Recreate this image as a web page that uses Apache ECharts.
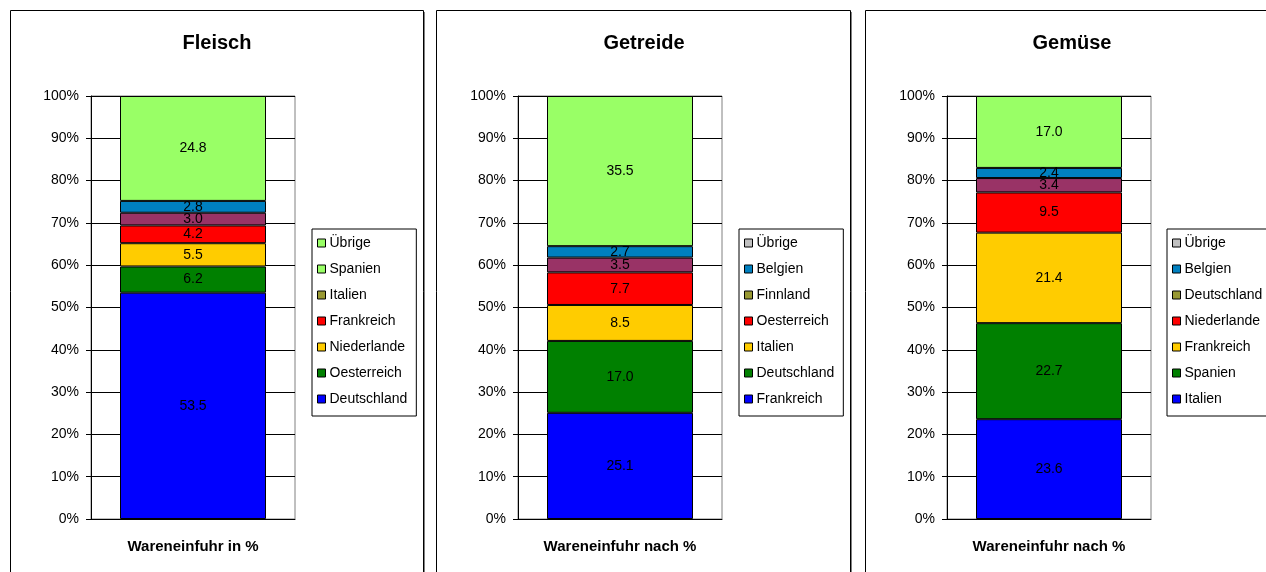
<!DOCTYPE html>
<html>
<head>
<meta charset="utf-8">
<script src="https://cdn.jsdelivr.net/npm/echarts@6/dist/echarts.min.js"></script>
<style>
  html, body { margin: 0; padding: 0; background: #fff; }
  #chart { width: 1266px; height: 572px; }
</style>
</head>
<body>
<div id="chart"></div>
<script>
// data, bottom segment first
const titles = ["Fleisch", "Getreide", "Gemüse"];
const axisNames = ["Wareneinfuhr in %", "Wareneinfuhr nach %", "Wareneinfuhr nach %"];

const fleischCats = ["Deutschland", "Oesterreich", "Niederlande", "Frankreich", "Italien", "Spanien", "Übrige"];
const fleischVals = [53.5, 6.2, 5.5, 4.2, 3.0, 2.8, 24.8];

const getreideCats = ["Frankreich", "Deutschland", "Italien", "Oesterreich", "Finnland", "Belgien", "Übrige"];
const getreideVals = [25.1, 17.0, 8.5, 7.7, 3.5, 2.7, 35.5];

const gemueseCats = ["Italien", "Spanien", "Frankreich", "Niederlande", "Deutschland", "Belgien", "Übrige"];
const gemueseVals = [23.6, 22.7, 21.4, 9.5, 3.4, 2.4, 17.0];

const yTicks = [0, 10, 20, 30, 40, 50, 60, 70, 80, 90, 100];

// segment colours (bars) and the colours the legend shows
const barColors = ["#0000FF", "#008000", "#FFCC00", "#FF0000", "#993366", "#0080C0", "#99FF66"];
const legendColors = [
  ["#0000FF", "#008000", "#FFCC00", "#FF0000", "#999933", "#99FF66", "#99FF66"],
  ["#0000FF", "#008000", "#FFCC00", "#FF0000", "#999933", "#0080C0", "#C0C0C0"],
  ["#0000FF", "#008000", "#FFCC00", "#FF0000", "#999933", "#0080C0", "#C0C0C0"]
];

const charts = [
  { cats: fleischCats, vals: fleischVals },
  { cats: getreideCats, vals: getreideVals },
  { cats: gemueseCats, vals: gemueseVals }
];

const panelX = [10, 436, 865];
const panelW = [413, 414, 420];
const gridLeft = [91, 518, 947];
const legendLeft = [312, 739, 1167];
const titleX = [212, 639, 1067];
const font = "Liberation Sans, Arial, sans-serif";

let myChart = echarts.init(document.getElementById("chart"));

let graphic = [];
panelX.forEach((x, i) => {
  graphic.push({
    type: "rect", z: -10,
    shape: { x: x + 2, y: 12, width: panelW[i], height: 600 },
    style: { fill: "#808080" }
  });
  graphic.push({
    type: "rect", z: -9,
    shape: { x: x + 0.5, y: 10.5, width: panelW[i], height: 600 },
    style: { fill: "#fff", stroke: "#000", lineWidth: 1 }
  });
});

let grid = [], xAxis = [], yAxis = [], series = [], title = [], legend = [];

charts.forEach((c, i) => {
  grid.push({
    left: gridLeft[i], top: 96, width: 204, height: 423,
    show: true, borderColor: "#808080", borderWidth: 1, backgroundColor: "transparent"
  });
  title.push({
    text: titles[i],
    left: titleX[i],
    top: 28,
    textAlign: "center",
    textStyle: { fontFamily: font, fontSize: 20, fontWeight: "bold", color: "#000" }
  });
  xAxis.push({
    type: "category", gridIndex: i,
    data: [axisNames[i]],
    axisLine: { lineStyle: { color: "#000" } },
    axisTick: { show: false },
    axisLabel: { margin: 20, color: "#000", fontFamily: font, fontSize: 15, fontWeight: "bold" }
  });
  yAxis.push({
    type: "value", gridIndex: i,
    min: yTicks[0], max: yTicks[yTicks.length - 1], interval: yTicks[1] - yTicks[0],
    axisLine: { show: true, lineStyle: { color: "#000" } },
    axisTick: { show: true, length: 5, lineStyle: { color: "#000" } },
    splitLine: { lineStyle: { color: "#000" } },
    axisLabel: { formatter: "{value}%", margin: 12, color: "#000", fontFamily: font, fontSize: 14 }
  });
  c.cats.forEach((name, k) => {
    series.push({
      name: name,
      type: "bar",
      xAxisIndex: i, yAxisIndex: i,
      stack: "s" + i,
      barWidth: 146,
      data: [c.vals[k]],
      itemStyle: { color: barColors[k], borderColor: "#000", borderWidth: 1 },
      label: {
        show: true, position: "inside",
        formatter: (p) => Number(p.value).toFixed(1),
        color: "#000", fontFamily: font, fontSize: 14
      }
    });
  });
  legend.push({
    orient: "vertical",
    left: legendLeft[i], top: 229,
    padding: [7, 9, 10, 5],
    itemGap: 12,
    itemWidth: 8, itemHeight: 8,
    icon: "rect",
    borderColor: "#000", borderWidth: 1,
    backgroundColor: "#fff",
    selectedMode: false,
    itemStyle: { borderColor: "#000", borderWidth: 1 },
    textStyle: { fontFamily: font, fontSize: 14, color: "#000", padding: [0, 0, 0, -1] },
    data: c.cats.map((name, k) => ({
      name: name,
      itemStyle: { color: legendColors[i][k], borderColor: "#000", borderWidth: 1 }
    })).reverse()
  });
});

let option = {
  animation: false,
  backgroundColor: "#fff",
  graphic: graphic,
  title: title,
  legend: legend,
  grid: grid,
  xAxis: xAxis,
  yAxis: yAxis,
  series: series
};

myChart.setOption(option);
</script>
</body>
</html>
